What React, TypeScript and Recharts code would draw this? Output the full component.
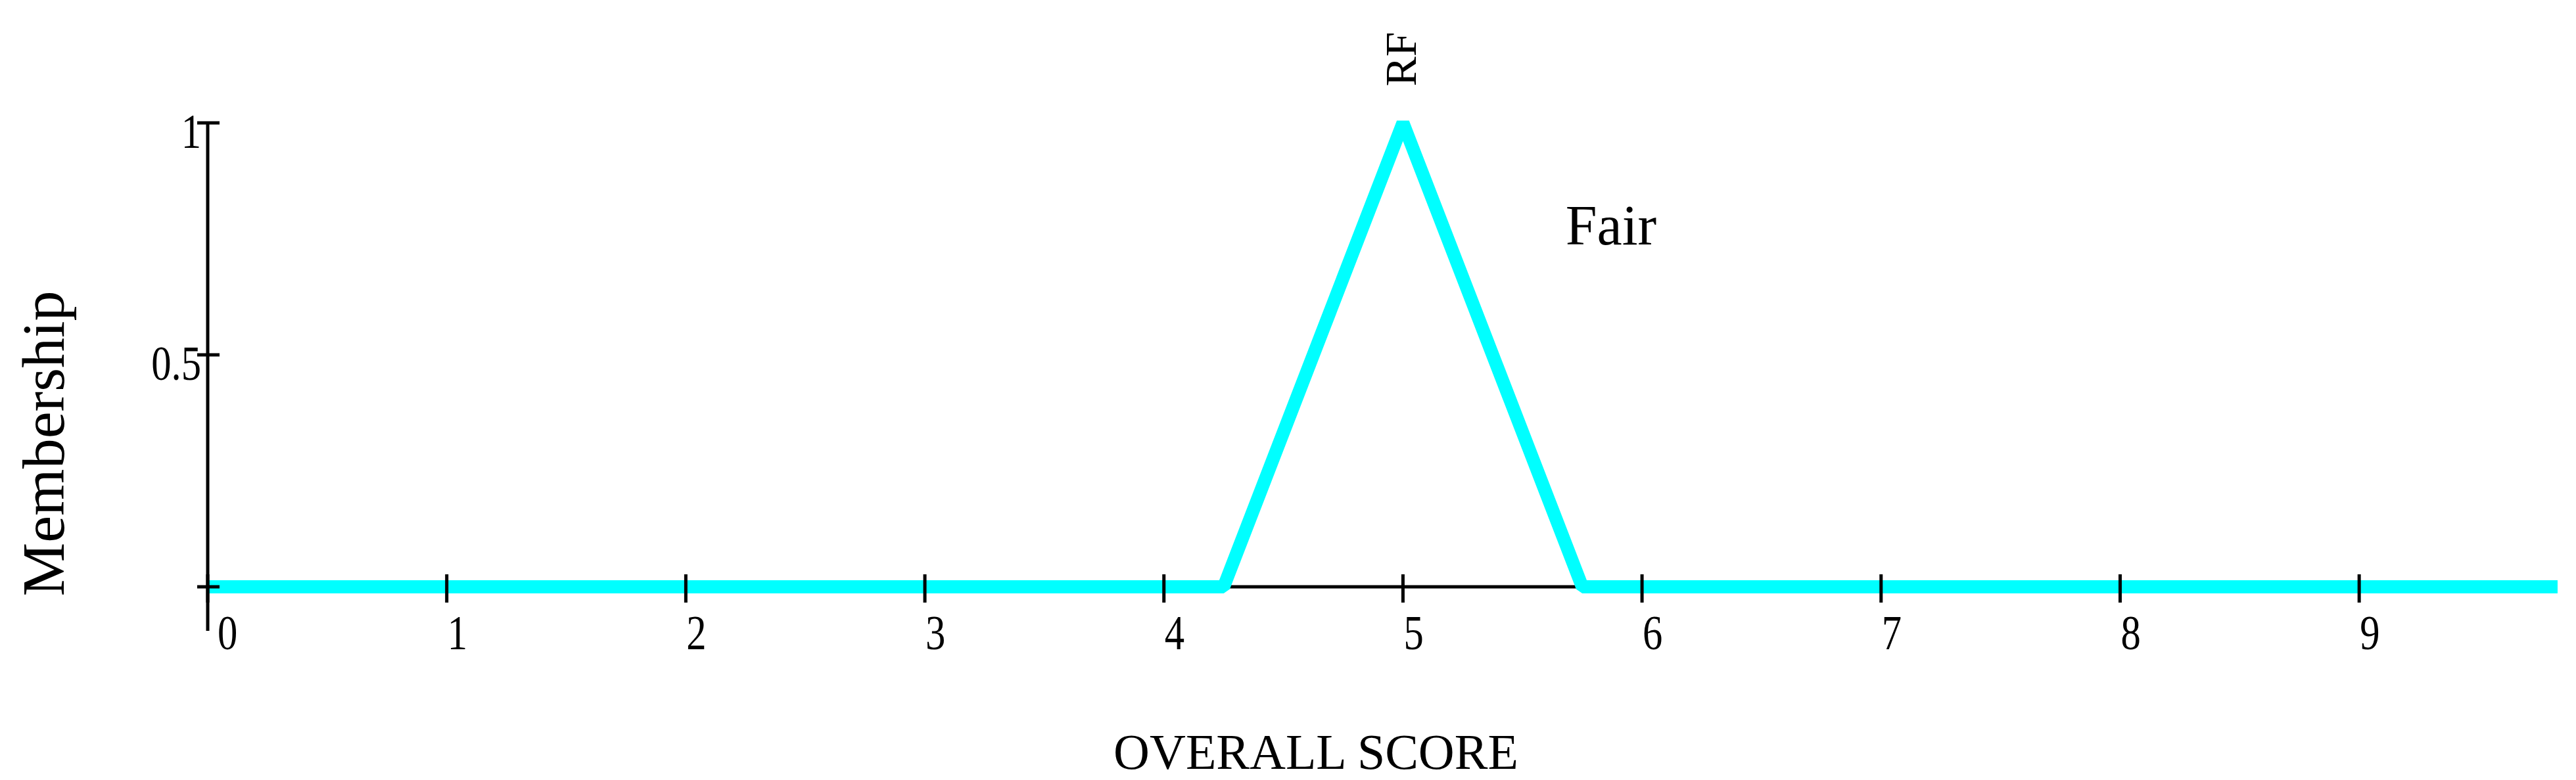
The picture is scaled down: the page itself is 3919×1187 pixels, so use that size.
import {
  LineChart,
  Line,
  XAxis,
  YAxis,
  ReferenceLine,
  ReferenceDot,
} from 'recharts';

// membership function of the "Fair" grade over the overall score
const scoreValues = [0, 4.25, 5, 5.75, 9.83];
const membershipValues = [0, 0, 1, 0, 0];

const xTicks = [0, 1, 2, 3, 4, 5, 6, 7, 8, 9];
const yTicks = [0, 0.5, 1];
const yTickLabels = ['', '0.5', '1'];

// annotations, in data units
const fairLabel = { x: 5.68, y: 0.738, text: 'Fair' };
const peakLabel = { x: 5, y: 1, text: 'RF' };

const chartData = scoreValues.map((score, i) => ({
  score,
  membership: membershipValues[i],
}));

const FONT = '"Liberation Serif", "Times New Roman", serif';

const XTick = (props: any) => {
  const { x, y, payload } = props;
  // the 0 label sits a bit off the vertical axis
  const dx = payload.value === 0 ? 15 : 1;
  return (
    <g>
      <line x1={x} x2={x} y1={y - 19} y2={y + 24} stroke="#000" strokeWidth={5} />
      <text
        transform={`translate(${x + dx},${y + 95}) scale(0.82,1)`}
        fontFamily={FONT}
        fontSize={74}
        fill="#000"
        textAnchor="start"
      >
        {payload.value}
      </text>
    </g>
  );
};

const YTick = (props: any) => {
  const { x, y, payload } = props;
  const label = yTickLabels[yTicks.indexOf(payload.value)] ?? '';
  return (
    <g>
      <line x1={x - 16} x2={x + 18} y1={y} y2={y} stroke="#000" strokeWidth={5} />
      {label && (
        <text
          transform={`translate(${x - 10},${y + 38}) scale(0.82,1)`}
          fontFamily={FONT}
          fontSize={74}
          fill="#000"
          textAnchor="end"
        >
          {label}
        </text>
      )}
    </g>
  );
};

const App = () => {
  return (
    <div style={{ position: 'absolute', left: 0, top: 0, background: '#fff' }}>
      <LineChart
        width={3919}
        height={1187}
        data={chartData}
        margin={{ top: 187, right: 28, bottom: 284, left: 306 }}
      >
        <XAxis
          dataKey="score"
          type="number"
          domain={[0, 9.83]}
          ticks={xTicks}
          height={10}
          tickSize={0}
          tickMargin={0}
          tickLine={false}
          axisLine={{ stroke: '#000', strokeWidth: 5 }}
          tick={XTick}
          interval={0}
          label={{
            content: () => (
              <text
                x={2002}
                y={1170}
                textAnchor="middle"
                fontFamily={FONT}
                fontSize={76}
                fill="#000"
              >
                OVERALL SCORE
              </text>
            ),
          }}
        />
        <YAxis
          type="number"
          domain={[0, 1]}
          ticks={yTicks}
          width={10}
          tickSize={0}
          tickMargin={0}
          tickLine={false}
          axisLine={false}
          tick={YTick}
          interval={0}
          label={{
            content: () => (
              <text
                x={97}
                y={675}
                transform="rotate(-90, 97, 675)"
                textAnchor="middle"
                fontFamily={FONT}
                fontSize={92}
                fill="#000"
              >
                Membership
              </text>
            ),
          }}
        />
        <Line
          type="linear"
          dataKey="membership"
          stroke="#00FFFF"
          strokeWidth={20}
          strokeLinejoin="bevel"
          dot={false}
          activeDot={false}
          isAnimationActive={false}
          zIndex={800}
        />
        {/* vertical axis runs a little below the horizontal one */}
        <ReferenceLine
          segment={[
            { x: 0, y: -0.095 },
            { x: 0, y: 1 },
          ]}
          stroke="#000"
          strokeWidth={5}
          ifOverflow="visible"
          zIndex={900}
        />
        <ReferenceDot
          x={fairLabel.x}
          y={fairLabel.y}
          r={0}
          fill="none"
          stroke="none"
          ifOverflow="visible"
          label={{
            content: (p: any) => (
              <text
                x={p.viewBox.x}
                y={p.viewBox.y}
                textAnchor="start"
                fontFamily={FONT}
                fontSize={86}
                fill="#000"
              >
                {fairLabel.text}
              </text>
            ),
          }}
        />
        <ReferenceDot
          x={peakLabel.x}
          y={peakLabel.y}
          r={0}
          fill="none"
          stroke="none"
          ifOverflow="visible"
          label={{
            content: (p: any) => {
              const tx = p.viewBox.x + 20;
              const ty = p.viewBox.y - 97;
              return (
                <text
                  x={tx}
                  y={ty}
                  transform={`rotate(-90, ${tx}, ${ty})`}
                  textAnchor="middle"
                  fontFamily={FONT}
                  fontSize={68}
                  fill="#000"
                >
                  {peakLabel.text}
                </text>
              );
            },
          }}
        />
      </LineChart>
    </div>
  );
};

export default App;
